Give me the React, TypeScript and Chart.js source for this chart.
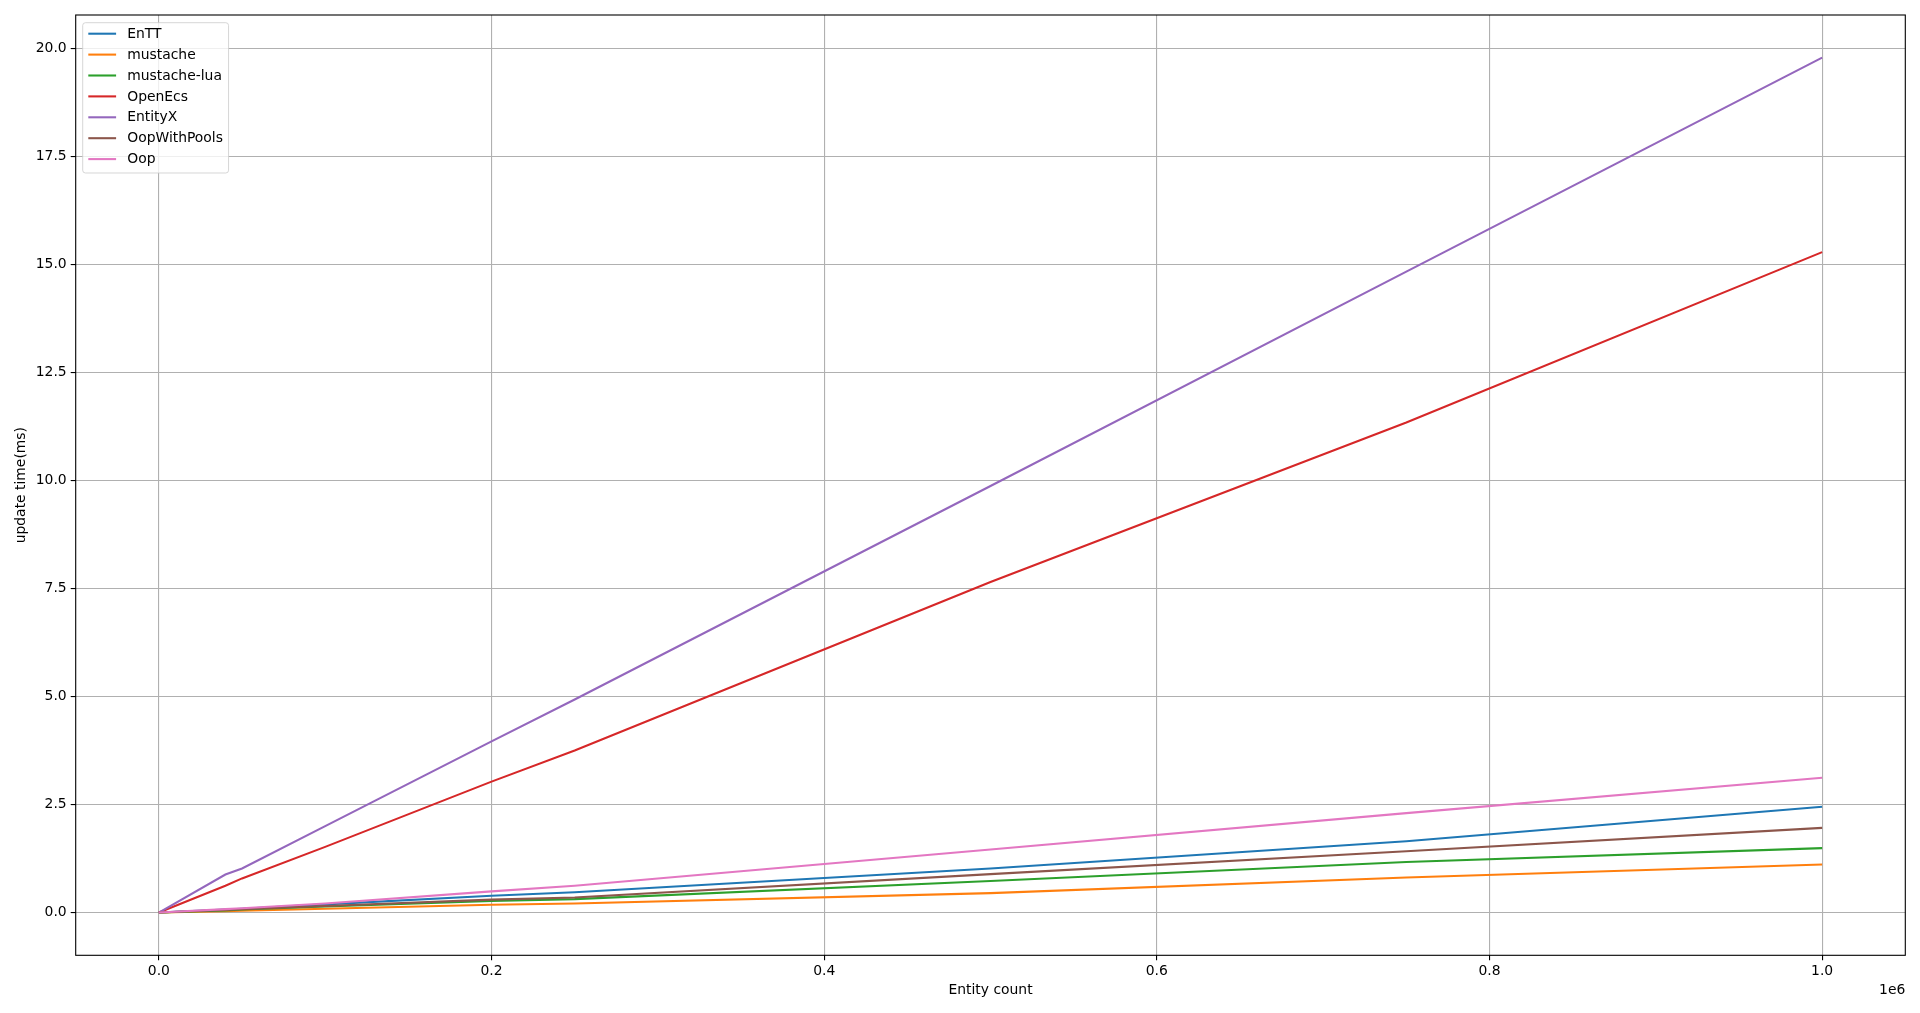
import React, { useEffect, useRef } from "react";
import { Chart, registerables } from "chart.js";

Chart.register(...registerables);

// ---- data ----
const entityCounts = [0, 40000, 50000, 100000, 200000, 250000, 500000, 750000, 1000000];
const seriesNames = ["EnTT", "mustache", "mustache-lua", "OpenEcs", "EntityX", "OopWithPools", "Oop"];
const enttTimes = [0, 0.07, 0.09, 0.19, 0.39, 0.47, 1.02, 1.65, 2.45];
const mustacheTimes = [0, 0.03, 0.04, 0.09, 0.18, 0.21, 0.45, 0.81, 1.11];
const mustacheLuaTimes = [0, 0.05, 0.07, 0.14, 0.27, 0.31, 0.73, 1.17, 1.49];
const openEcsTimes = [0, 0.62, 0.79, 1.52, 3.03, 3.75, 7.65, 11.34, 15.28];
const entityXTimes = [0, 0.88, 1.02, 2.0, 3.96, 4.93, 9.87, 14.83, 19.78];
const oopWithPoolsTimes = [0, 0.06, 0.08, 0.15, 0.3, 0.35, 0.89, 1.42, 1.96];
const oopTimes = [0, 0.08, 0.1, 0.21, 0.49, 0.62, 1.46, 2.3, 3.12];
const seriesColors = ["#1f77b4", "#ff7f0e", "#2ca02c", "#d62728", "#9467bd", "#8c564b", "#e377c2"];
const xTickValues = [0, 200000, 400000, 600000, 800000, 1000000];
const yTickValues = [0, 2.5, 5, 7.5, 10, 12.5, 15, 17.5, 20];
const xLabel = "Entity count";
const yLabel = "update time(ms)";
const xOffsetLabel = "1e6";

const FONT = "DejaVu Sans";
const FS = 13.9;

const allSeries = [enttTimes, mustacheTimes, mustacheLuaTimes, openEcsTimes, entityXTimes, oopWithPoolsTimes, oopTimes];

const decorPlugin = {
  id: "decor",
  afterDraw(chart: any) {
    const ctx = chart.ctx;
    const a = chart.chartArea;
    ctx.save();
    // frame
    ctx.strokeStyle = "#000";
    ctx.lineWidth = 1.1;
    ctx.strokeRect(a.left, a.top, a.right - a.left, a.bottom - a.top);
    // axis labels
    ctx.fillStyle = "#000";
    ctx.font = `${FS}px "${FONT}"`;
    ctx.textAlign = "center";
    ctx.textBaseline = "middle";
    ctx.fillText(xLabel, (a.left + a.right) / 2, 990);
    ctx.textAlign = "right";
    ctx.fillText(xOffsetLabel, a.right, 990);
    ctx.save();
    ctx.translate(21.5, (a.top + a.bottom) / 2);
    ctx.rotate(-Math.PI / 2);
    ctx.textAlign = "center";
    ctx.fillText(yLabel, 0, 0);
    ctx.restore();

    // legend
    const ds = chart.data.datasets;
    const boxLeft = a.left + 7;
    const boxTop = a.top + 7.7;
    const pad = 5.6;
    const handleLen = 27.8;
    const textPad = 11.1;
    const rowH = 20.9;
    let maxW = 0;
    ds.forEach((d: any) => {
      maxW = Math.max(maxW, ctx.measureText(d.label).width);
    });
    const boxW = pad + handleLen + textPad + maxW + pad;
    const boxH = 150.3;
    const r = 2.8;
    ctx.beginPath();
    ctx.moveTo(boxLeft + r, boxTop);
    ctx.lineTo(boxLeft + boxW - r, boxTop);
    ctx.quadraticCurveTo(boxLeft + boxW, boxTop, boxLeft + boxW, boxTop + r);
    ctx.lineTo(boxLeft + boxW, boxTop + boxH - r);
    ctx.quadraticCurveTo(boxLeft + boxW, boxTop + boxH, boxLeft + boxW - r, boxTop + boxH);
    ctx.lineTo(boxLeft + r, boxTop + boxH);
    ctx.quadraticCurveTo(boxLeft, boxTop + boxH, boxLeft, boxTop + boxH - r);
    ctx.lineTo(boxLeft, boxTop + r);
    ctx.quadraticCurveTo(boxLeft, boxTop, boxLeft + r, boxTop);
    ctx.closePath();
    ctx.fillStyle = "rgba(255,255,255,0.8)";
    ctx.fill();
    ctx.strokeStyle = "rgba(204,204,204,0.8)";
    ctx.lineWidth = 1;
    ctx.stroke();
    ds.forEach((d: any, i: number) => {
      const cy = boxTop + 11 + i * rowH;
      ctx.beginPath();
      ctx.strokeStyle = d.borderColor;
      ctx.lineWidth = 2.08;
      ctx.moveTo(boxLeft + pad, cy);
      ctx.lineTo(boxLeft + pad + handleLen, cy);
      ctx.stroke();
      ctx.fillStyle = "#000";
      ctx.textAlign = "left";
      ctx.textBaseline = "middle";
      ctx.fillText(d.label, boxLeft + pad + handleLen + textPad, cy + 0.5);
    });
    ctx.restore();
  },
};

export default function App() {
  const ref = useRef<HTMLCanvasElement | null>(null);
  useEffect(() => {
    document.body.style.margin = "0";
    const canvas = ref.current;
    if (!canvas) return;
    const datasets = seriesNames.map((name, i) => ({
      label: name,
      data: entityCounts.map((x, j) => ({ x, y: allSeries[i][j] })),
      borderColor: seriesColors[i],
      backgroundColor: seriesColors[i],
      borderWidth: 2.08,
      pointRadius: 0,
      tension: 0,
      fill: false,
      order: seriesNames.length - i,
    }));
    const chart = new Chart(canvas, {
      type: "line",
      data: { datasets },
      options: {
        animation: false,
        responsive: false,
        devicePixelRatio: 1,
        layout: { padding: { left: 0, top: 15, right: 14.7, bottom: 0 } },
        plugins: { legend: { display: false }, tooltip: { enabled: false } },
        scales: {
          x: {
            type: "linear",
            min: -50000,
            max: 1050000,
            afterBuildTicks: (scale: any) => {
              scale.ticks = xTickValues.map((v) => ({ value: v }));
            },
            afterFit: (scale: any) => {
              scale.height = 57.7;
            },
            border: { display: false },
            grid: { color: "#b0b0b0", lineWidth: 1.1, drawTicks: true, tickLength: 5, tickColor: "#000", tickWidth: 1.1 },
            ticks: {
              color: "#000",
              font: { family: FONT, size: FS },
              padding: 3,
              maxRotation: 0,
              autoSkip: false,
              callback: (v: any) => (Number(v) / 1e6).toFixed(1),
            },
          },
          y: {
            type: "linear",
            min: -0.989,
            max: 20.767,
            afterBuildTicks: (scale: any) => {
              scale.ticks = yTickValues.map((v) => ({ value: v }));
            },
            afterFit: (scale: any) => {
              scale.width = 75.7;
            },
            border: { display: false },
            grid: { color: "#b0b0b0", lineWidth: 1.1, drawTicks: true, tickLength: 5, tickColor: "#000", tickWidth: 1.1 },
            ticks: {
              color: "#000",
              font: { family: FONT, size: FS },
              padding: 4,
              autoSkip: false,
              callback: (v: any) => Number(v).toFixed(1),
            },
          },
        },
      },
      plugins: [decorPlugin],
    } as any);
    return () => chart.destroy();
  }, []);
  return (
    <div style={{ width: 1920, height: 1013, background: "#fff" }}>
      <canvas ref={ref} width={1920} height={1013} style={{ display: "block", width: 1920, height: 1013 }} />
    </div>
  );
}
